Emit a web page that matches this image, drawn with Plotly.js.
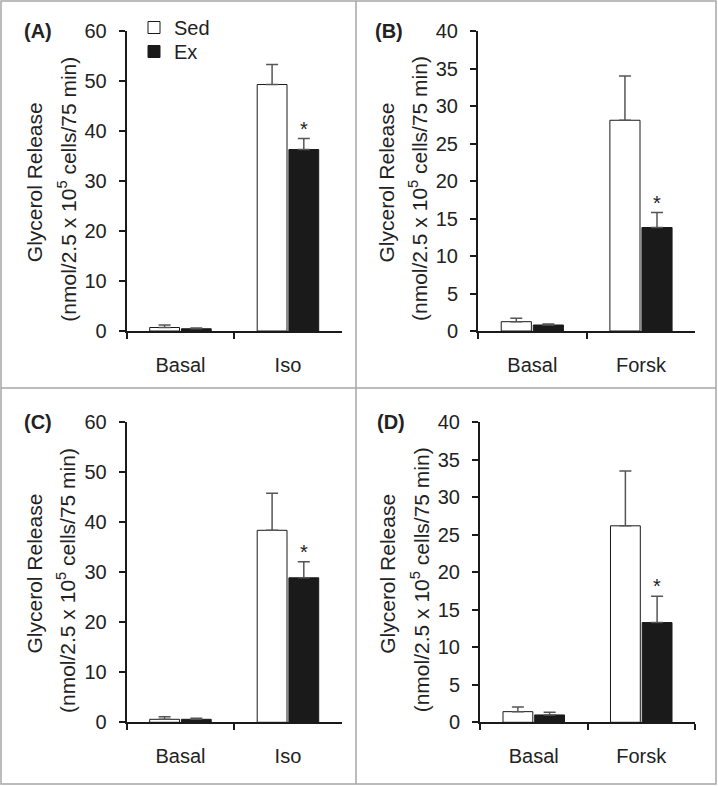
<!DOCTYPE html>
<html>
<head>
<meta charset="utf-8">
<script src="https://cdn.plot.ly/plotly-3.0.1.min.js"></script>
<style>
  body { margin: 0; background: #fff; }
  #plotDiv { width: 718px; height: 786px; }
</style>
</head>
<body>
<div id="plotDiv"></div>
<script>
// categories
let catIso = ["Basal", "Iso"];
let catForsk = ["Basal", "Forsk"];

// (A) isoproterenol
let sedA = [0.7, 49.3];
let sedAerr = [0.5, 4.0];
let exA = [0.45, 36.3];
let exAerr = [0.15, 2.2];

// (B) forskolin
let sedB = [1.24, 28.1];
let sedBerr = [0.45, 5.9];
let exB = [0.8, 13.8];
let exBerr = [0.13, 2.0];

// (C) isoproterenol
let sedC = [0.6, 38.4];
let sedCerr = [0.5, 7.4];
let exC = [0.6, 28.9];
let exCerr = [0.2, 3.2];

// (D) forskolin
let sedD = [1.42, 26.2];
let sedDerr = [0.62, 7.3];
let exD = [0.98, 13.3];
let exDerr = [0.35, 3.5];

// which Ex bars get an asterisk
let starA = [false, true];
let starB = [false, true];
let starC = [false, true];
let starD = [false, true];

const W = 718, H = 786;
const FONT = "Liberation Sans, Arial, sans-serif";
const INK = "#1a1a1a";

function px(x) { return x / W; }
function py(y) { return 1 - y / H; }

let data = [];
let legendStyle = {
  xanchor: "left", yanchor: "top",
  bgcolor: "rgba(0,0,0,0)",
  font: {family: FONT, size: 20, color: "#222"},
  itemwidth: 30
};
let layout = {
  width: W,
  height: H,
  margin: {l: 0, r: 0, t: 0, b: 0},
  paper_bgcolor: "#fff",
  plot_bgcolor: "#fff",
  barmode: "group",
  bargap: 0.41,
  bargroupgap: 0.06,
  font: {family: FONT, size: 20, color: "#222"},
  showlegend: true,
  // Sed and Ex each get their own legend so the rows sit close together
  legend: Object.assign({x: px(134), y: py(8)}, legendStyle),
  legend2: Object.assign({x: px(134), y: py(32)}, legendStyle),
  annotations: [],
  shapes: []
};

// panels: [suffix, cats, sed, sedErr, ex, exErr, stars, ymax, dtick, x0px, x1px, y0px(top), y1px(bottom), label]
let panels = [
  ["", catIso, sedA, sedAerr, exA, exAerr, starA, 60, 10, 126.7, 341.7, 31, 331, "(A)"],
  ["2", catForsk, sedB, sedBerr, exB, exBerr, starB, 40, 5, 478, 695.3, 31, 331, "(B)"],
  ["3", catIso, sedC, sedCerr, exC, exCerr, starC, 60, 10, 126.7, 341.7, 422.3, 722.3, "(C)"],
  ["4", catForsk, sedD, sedDerr, exD, exDerr, starD, 40, 5, 480, 695, 422.3, 722.3, "(D)"]
];

panels.forEach(function (p, i) {
  let [sfx, cats, sed, sedErr, ex, exErr, stars, ymax, dtick, x0, x1, yTop, yBot, label] = p;
  let xa = "x" + sfx, ya = "y" + sfx;

  data.push({
    type: "bar", name: "Sed", x: cats, y: sed, xaxis: xa, yaxis: ya,
    marker: {color: "#fff", line: {color: INK, width: 1}},
    error_y: {type: "data", symmetric: false, array: sedErr, arrayminus: [0, 0],
              color: "#555", thickness: 1.5, width: 6},
    showlegend: i === 0, legend: "legend", hoverinfo: "skip"
  });
  data.push({
    type: "bar", name: "Ex", x: cats, y: ex, xaxis: xa, yaxis: ya,
    marker: {color: INK, line: {color: INK, width: 1}},
    error_y: {type: "data", symmetric: false, array: exErr, arrayminus: [0, 0],
              color: "#555", thickness: 1.5, width: 6},
    showlegend: i === 0, legend: "legend2", hoverinfo: "skip"
  });

  let axStyle = {
    showline: true, linecolor: INK, linewidth: 2,
    ticks: "outside", tickcolor: INK, tickwidth: 2, ticklen: 6,
    showgrid: false, zeroline: false, fixedrange: true,
    tickfont: {family: FONT, size: 20, color: "#222"}
  };

  layout["xaxis" + sfx] = Object.assign({}, axStyle, {
    type: "category", range: [-0.5, 1.5], tickson: "boundaries",
    domain: [px(x0), px(x1)], anchor: ya, ticklabelstandoff: 15
  });
  layout["yaxis" + sfx] = Object.assign({}, axStyle, {
    range: [0, ymax], dtick: dtick, tick0: 0,
    domain: [py(yBot), py(yTop)], anchor: xa, ticklabelstandoff: 8
  });

  // y axis title, two lines
  let mid = (yTop + yBot) / 2;
  layout.annotations.push({
    xref: "paper", yref: "paper", x: px(x0 - 92), y: py(mid + 1.5),
    text: "Glycerol Release", textangle: -90, showarrow: false,
    xanchor: "center", yanchor: "middle", font: {family: FONT, size: 21, color: "#222"}
  });
  layout.annotations.push({
    xref: "paper", yref: "paper", x: px(x0 - 60), y: py(mid + 8),
    text: "(nmol/2.5 x 10<sup>5</sup> cells/75 min)", textangle: -90, showarrow: false,
    xanchor: "center", yanchor: "middle", font: {family: FONT, size: 21, color: "#222"}
  });

  // panel label
  layout.annotations.push({
    xref: "paper", yref: "paper", x: px(x0 - 89), y: py(yTop),
    text: "<b>" + label + "</b>", showarrow: false,
    xanchor: "center", yanchor: "middle", font: {family: FONT, size: 20, color: "#222"}
  });

  // asterisks over Ex bars
  cats.forEach(function (c, j) {
    if (stars[j]) {
      layout.annotations.push({
        xref: xa, yref: ya, x: c, y: ex[j] + exErr[j], xshift: 16, yshift: -3,
        text: "*", showarrow: false, xanchor: "center", yanchor: "bottom",
        font: {family: FONT, size: 20, color: "#222"}
      });
    }
  });
});

// frame and dividers
let frame = {color: "#a6a6a6", width: 1.5};
layout.shapes.push({type: "rect", xref: "paper", yref: "paper",
  x0: px(1), x1: px(716), y0: py(1), y1: py(784), line: frame});
layout.shapes.push({type: "line", xref: "paper", yref: "paper",
  x0: px(356), x1: px(356), y0: py(1), y1: py(784), line: frame});
layout.shapes.push({type: "line", xref: "paper", yref: "paper",
  x0: px(1), x1: px(716), y0: py(388), y1: py(388), line: frame});

Plotly.newPlot("plotDiv", data, layout, {staticPlot: true});
</script>
</body>
</html>
